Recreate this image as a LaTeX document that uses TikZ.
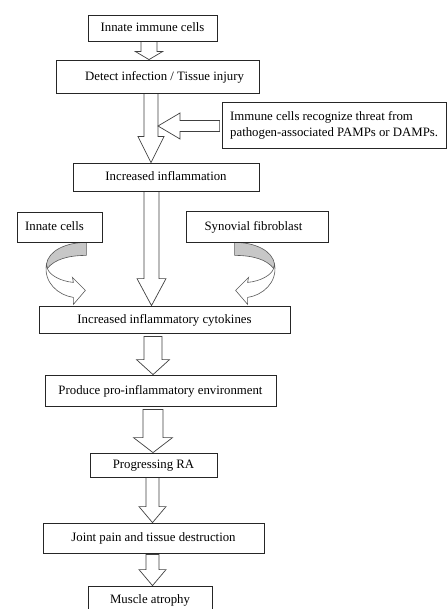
\documentclass[tikz,border=0pt]{standalone}
\usepackage{fontspec}
\setmainfont{Liberation Serif}
\usetikzlibrary{calc,backgrounds}
\tikzset{
  box/.style={draw=black!85, line width=0.8pt, fill=white, inner sep=0pt,
    font=\fontsize{12.8}{15}\selectfont, text height=9.5pt, text depth=2pt},
  blockarrow/.style={draw=black!75, line width=0.7pt, fill=white, line join=miter},
  ribbonback/.style={draw=black!65, line width=0.6pt, fill=black!22},
  ribbonfront/.style={draw=black!65, line width=0.6pt, fill=white},
  txt/.style={font=\fontsize{12.8}{16.4}\selectfont, inner sep=0pt}
}
% #1 from, #2 to, #3 x centre, #4 shaft half width, #5 head half width, #6 head length, #7 start gap
\newcommand\varrow[7]{\draw[blockarrow] let \p1=(#1.south), \p2=(#2.north) in
  (#3pt-#4pt,\y1-#7pt) -- (#3pt-#4pt,\y2+#6pt) -- (#3pt-#5pt,\y2+#6pt) -- (#3pt,\y2)
  -- (#3pt+#5pt,\y2+#6pt) -- (#3pt+#4pt,\y2+#6pt) -- (#3pt+#4pt,\y1-#7pt) -- cycle;}
\newcommand\ribbonpaths{%
  \draw[ribbonback] (0,0) .. controls (-20,0) and (-38,8) .. (-40,22) -- (-39,26)
    .. controls (-32,17) and (-18,13) .. (0,13) -- cycle;
  \draw[ribbonfront] (-40,22) .. controls (-43,40) and (-28,53) .. (-13,55) -- (-13,62)
    -- (-1,48) -- (-14,35) -- (-13,40) .. controls (-25,39) and (-37,33) .. (-39,26) -- cycle;}
\begin{document}
\begin{tikzpicture}[x=1pt, y=-1pt]
\useasboundingbox (0,0) rectangle (447,609);
\clip (0,0) rectangle (447,609);

\node[box, minimum width=129pt, minimum height=26pt] (b1) at (152.5,28) {Innate immune cells};
\node[box, minimum width=203pt, minimum height=33pt] (b2) at (157.5,76.5) {\hspace*{14pt}Detect infection / Tissue injury};
\node[box, minimum width=186pt, minimum height=28pt] (b3) at (166,177) {Increased inflammation};
\node[box, minimum width=224pt, minimum height=46pt] (b4) at (334,125) {};
\node[txt, anchor=west, align=left] (b4t) at (230,125.5) {Immune cells recognize threat from\\pathogen-associated PAMPs or DAMPs.};
\node[box, minimum width=85pt, minimum height=30pt] (b5) at (59.5,227) {Innate cells\hspace*{10pt}};
\node[box, minimum width=142pt, minimum height=31pt] (b6) at (257,226.5) {Synovial fibroblast\hspace*{7pt}};
\node[box, minimum width=251pt, minimum height=27pt] (b7) at (164.5,319.5) {Increased inflammatory cytokines};
\node[box, minimum width=231pt, minimum height=31pt] (b8) at (160.5,390.5) {Produce pro-inflammatory environment};
\node[box, minimum width=127pt, minimum height=24pt] (b9) at (153.5,465) {Progressing RA};
\node[box, minimum width=221pt, minimum height=30pt] (b10) at (153.5,538) {Joint pain and tissue destruction};
\node[box, minimum width=124pt, minimum height=28pt] (b11) at (150,600) {Muscle atrophy};

\coordinate (a2r) at (158,126);

\begin{scope}[on background layer]
  \varrow{b1}{b2}{149}{8}{13.5}{8}{0}
  \varrow{b2}{b3}{151}{7}{13}{26}{0}
  \draw[blockarrow] let \p1=(b4.west), \p2=(a2r) in
    (\x1-2pt,\y2+5.5pt) -- (\x2+22pt,\y2+5.5pt) -- (\x2+22pt,\y2+13pt) -- (\x2,\y2)
    -- (\x2+22pt,\y2-13pt) -- (\x2+22pt,\y2-5.5pt) -- (\x1-2pt,\y2-5.5pt) -- cycle;
  \varrow{b3}{b7}{151.5}{7.5}{14.5}{27}{0}
  \varrow{b7}{b8}{153}{9}{16.5}{15}{3}
  \varrow{b8}{b9}{153}{10}{19.5}{15}{3}
  \varrow{b9}{b10}{152.5}{6.5}{13.5}{16}{0}
  \varrow{b10}{b11}{152.5}{6.5}{13.5}{16}{1}
  \begin{scope}[shift={($(b5.south east)+(-16,0)$)}]
    \ribbonpaths
  \end{scope}
  \begin{scope}[shift={($(b6.south west)+(49,0)$)}, xscale=-1]
    \ribbonpaths
  \end{scope}
\end{scope}
\end{tikzpicture}
\end{document}
